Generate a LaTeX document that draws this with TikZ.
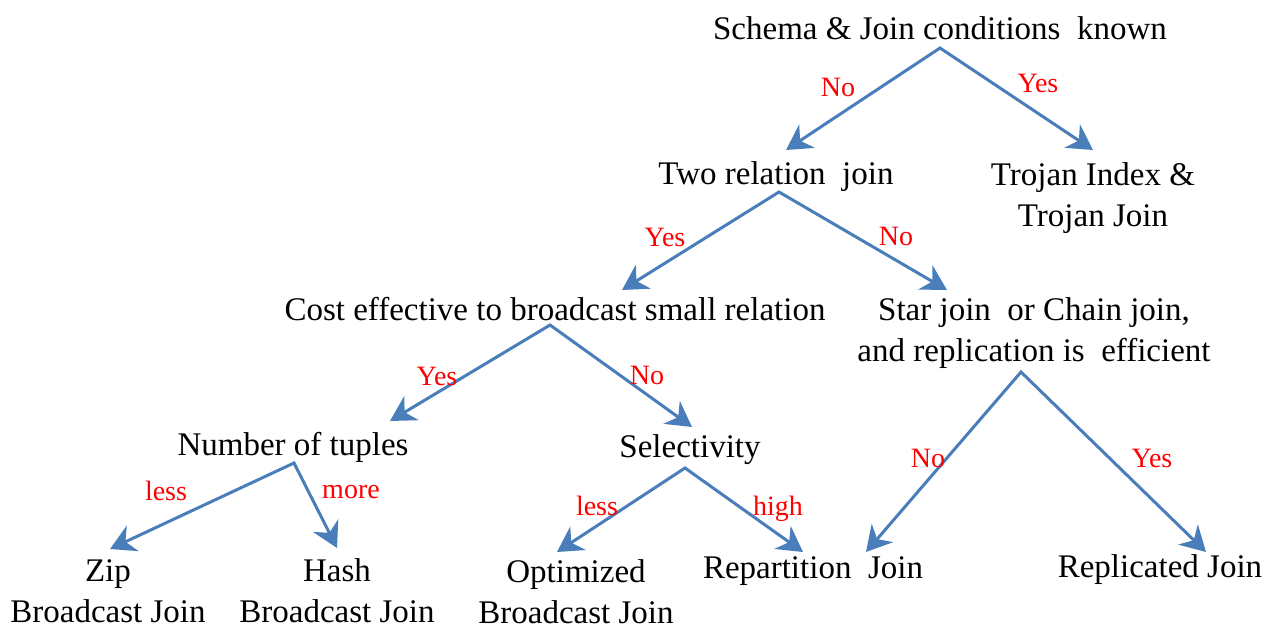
\documentclass[tikz,border=0pt]{standalone}
\usepackage{fontspec}
\setmainfont{Liberation Serif}
\usetikzlibrary{arrows.meta}
\definecolor{flow}{HTML}{4A7EBB}
\definecolor{lbl}{HTML}{FF0000}
\tikzset{forktip/.tip={Stealth[length=25pt,width=28pt,inset=8pt]}}
\begin{document}
\begin{tikzpicture}[x=1pt,y=-1pt,
  txt/.style={font=\fontsize{33}{41}\selectfont, anchor=base, inner sep=0pt, align=center},
  lab/.style={font=\fontsize{28}{32}\selectfont, text=lbl, anchor=base, inner sep=0pt},
  fork/.style={draw=flow, line width=3pt, line join=miter, {forktip}-{forktip}}]
\useasboundingbox (0,0) rectangle (1275,631);

% decision and outcome texts (multi-line texts are placed by their last baseline)
\node[txt] (schema) at (940,40) {Schema \& Join conditions\ \ known};
\node[txt] (two) at (776,185) {Two relation\ \ join};
\node[txt] (trojan) at (1093,227) {Trojan Index \&\\Trojan Join};
\node[txt] (cost) at (555,320) {Cost effective to broadcast small relation};
\node[txt] (star) at (1034,361) {Star join\ \ or Chain join,\\and replication is\ \ efficient};
\node[txt] (tuples) at (293,455) {Number of tuples};
\node[txt] (sel) at (690,457) {Selectivity};
\node[txt] (zip) at (108,622) {Zip\\Broadcast Join};
\node[txt] (hash) at (337,622) {Hash\\Broadcast Join};
\node[txt] (opt) at (576,623) {Optimized\\Broadcast Join};
\node[txt] (repart) at (813,578) {Repartition\ \ Join};
\node[txt] (repl) at (1160,577) {Replicated Join};

% fork points and arrow tips
\coordinate (aSchema) at (940,48);
\coordinate (tTwo) at (786,150);
\coordinate (tTrojan) at (1093,150);
\coordinate (aTwo) at (779,192);
\coordinate (tCost) at (622,290);
\coordinate (tStar) at (947,290);
\coordinate (aCost) at (550,325);
\coordinate (tTuples) at (390,421);
\coordinate (tSel) at (692,427);
\coordinate (aStar) at (1021,372);
\coordinate (tRepJ) at (866,552);
\coordinate (tRepl) at (1206,552);
\coordinate (aTuples) at (294,463);
\coordinate (tZip) at (110,549);
\coordinate (tHash) at (337,548);
\coordinate (aSel) at (685,468);
\coordinate (tOpt) at (557,552);
\coordinate (tRep) at (803,552);

% branches
\draw[fork] (tTwo) -- (aSchema) -- (tTrojan);
\draw[fork] (tCost) -- (aTwo) -- (tStar);
\draw[fork] (tTuples) -- (aCost) -- (tSel);
\draw[fork] (tRepJ) -- (aStar) -- (tRepl);
\draw[fork] (tZip) -- (aTuples) -- (tHash);
\draw[fork] (tOpt) -- (aSel) -- (tRep);

% branch labels
\node[lab] (l1) at (838,97) {No};
\node[lab] (l2) at (1038,93) {Yes};
\node[lab] (l3) at (665,247) {Yes};
\node[lab] (l4) at (896,246) {No};
\node[lab] (l5) at (437,385) {Yes};
\node[lab] (l6) at (647,384) {No};
\node[lab] (l7) at (928,467) {No};
\node[lab] (l8) at (1152,467) {Yes};
\node[lab] (l9) at (166,500) {less};
\node[lab] (l10) at (351,498) {more};
\node[lab] (l11) at (597,515) {less};
\node[lab] (l12) at (778,515) {high};
\end{tikzpicture}
\end{document}
